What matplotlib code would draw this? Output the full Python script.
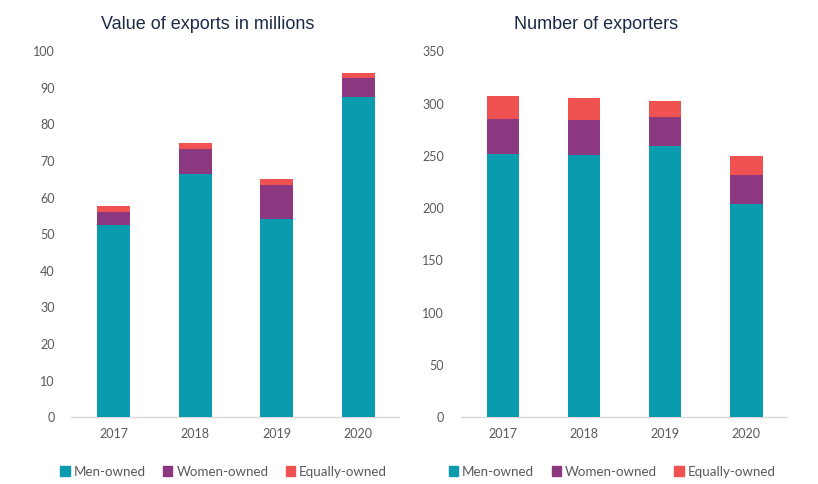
import numpy as np
import matplotlib
matplotlib.use("Agg")
import matplotlib.pyplot as plt
from matplotlib.patches import Patch

years = ["2017", "2018", "2019", "2020"]
series = ["Men-owned", "Women-owned", "Equally-owned"]

# value of exports in millions
value_men = [52.5, 66.4, 54.1, 87.4]
value_women = [3.5, 6.8, 9.3, 5.2]
value_equal = [1.7, 1.7, 1.6, 1.4]

# number of exporters
count_men = [252, 251, 259, 204]
count_women = [33, 33, 28, 28]
count_equal = [22, 21, 15, 18]

colors = ["#0A9BAF", "#8B3881", "#F05252"]
title_color = "#1B2A47"
tick_color = "#595959"

fig = plt.figure(figsize=(8.18, 4.84), dpi=100)
ax1 = fig.add_axes([0.087, 0.138, 0.401, 0.756])
ax2 = fig.add_axes([0.563, 0.138, 0.399, 0.756])


def stacked(ax, parts, title, ymax, step):
    x = np.arange(len(years))
    bottom = np.zeros(len(years))
    for vals, c in zip(parts, colors):
        ax.bar(x, vals, width=0.4, bottom=bottom, color=c, zorder=3)
        bottom += np.asarray(vals, float)
    ax.set_xlim(-0.52, 3.5)
    ax.set_ylim(0, ymax)
    ax.set_yticks(np.arange(0, ymax + 1, step))
    ax.set_xticks(x)
    ax.set_xticklabels(years)
    ax.tick_params(length=0, labelsize=9, colors=tick_color, pad=8)
    ax.tick_params(axis="y", pad=12)
    for t in ax.get_xticklabels() + ax.get_yticklabels():
        t.set_fontfamily("Lato")
    for s in ["top", "right", "left"]:
        ax.spines[s].set_visible(False)
    ax.spines["bottom"].set_color("#D9D9D9")
    ax.spines["bottom"].set_linewidth(1.0)
    ax.set_title(title, fontsize=13, color=title_color, family="Liberation Sans",
                 x=0.415, pad=16)
    handles = [Patch(color=c, label=s) for c, s in zip(colors, series)]
    leg = ax.legend(handles=handles, ncol=3, loc="upper center",
                    bbox_to_anchor=(0.465, -0.1), frameon=False,
                    handlelength=0.7, handleheight=0.7, handletextpad=0.3,
                    columnspacing=1.3, prop={"family": "Lato", "size": 9.6})
    for t in leg.get_texts():
        t.set_color(tick_color)


stacked(ax1, [value_men, value_women, value_equal], "Value of exports in millions", 100, 10)
stacked(ax2, [count_men, count_women, count_equal], "Number of exporters", 350, 50)

fig.savefig("out.png", dpi=100)
